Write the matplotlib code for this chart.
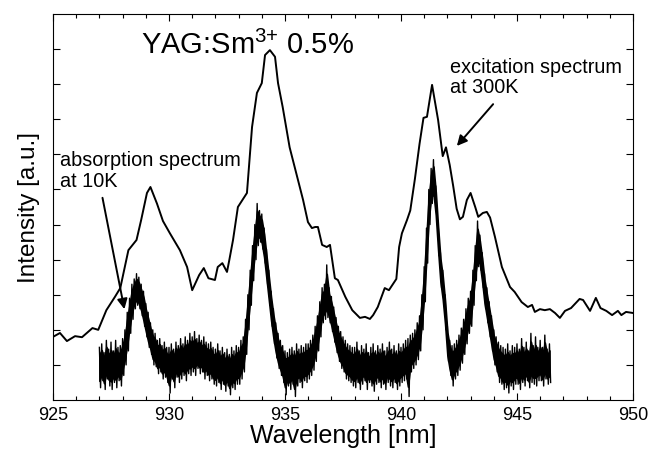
import numpy as np
import matplotlib
matplotlib.use("Agg")
import matplotlib.pyplot as plt
from matplotlib.ticker import MultipleLocator, NullFormatter

plt.rcParams['font.family'] = ['Liberation Sans', 'DejaVu Sans']
plt.rcParams['mathtext.fontset'] = 'custom'
plt.rcParams['mathtext.rm'] = 'Liberation Sans'
plt.rcParams['mathtext.it'] = 'Liberation Sans:italic'
plt.rcParams['mathtext.bf'] = 'Liberation Sans:bold'

# ---- Excitation spectrum at 300 K (smooth line) ----
exc_wl = [925.0, 925.3, 925.6, 925.95, 926.25, 926.7, 926.95, 927.3, 927.67, 927.9,
          928.25, 928.6, 928.8, 929.05, 929.2, 929.48, 929.74, 930.04, 930.47, 930.78,
          931.0, 931.3, 931.5, 931.7, 931.98, 932.1, 932.3, 932.5, 932.6, 932.76,
          932.97, 933.36, 933.58, 933.79, 934.0, 934.14, 934.35, 934.57, 934.7, 934.9,
          935.2, 935.56, 935.78, 935.99, 936.16, 936.3, 936.42, 936.6, 936.8, 936.94,
          937.15, 937.28, 937.6, 937.9, 938.23, 938.45, 938.66, 938.8, 939.0, 939.3,
          939.48, 939.8, 939.92, 940.04, 940.26, 940.4, 940.6, 940.8, 940.97, 941.12,
          941.34, 941.6, 941.8, 941.94, 942.1, 942.25, 942.4, 942.54, 942.67, 942.84,
          943.0, 943.2, 943.33, 943.53, 943.7, 943.84, 944.05, 944.35, 944.7, 944.9,
          945.2, 945.47, 945.65, 945.77, 945.99, 946.2, 946.42, 946.64, 946.85, 947.07,
          947.33, 947.7, 947.85, 948.15, 948.4, 948.6, 948.85, 949.1, 949.35, 949.5,
          949.7, 950.0]
exc_int = [1.80, 1.91, 1.68, 1.82, 1.79, 2.05, 2.00, 2.56, 2.94, 3.19,
           4.27, 4.56, 5.13, 5.90, 6.07, 5.60, 5.10, 4.75, 4.27, 3.79,
           3.13, 3.56, 3.76, 3.47, 3.42, 3.79, 3.90, 3.65, 3.99, 4.56,
           5.50, 5.90, 7.78, 8.75, 9.03, 9.83, 9.97, 9.78, 9.03, 8.35,
           7.20, 6.27, 5.70, 5.07, 4.90, 4.93, 4.93, 4.42, 4.36, 4.42,
           3.47, 3.42, 2.94, 2.56, 2.34, 2.37, 2.31, 2.42, 2.65, 3.19,
           3.13, 3.45, 4.36, 4.75, 5.13, 5.40, 6.30, 7.30, 8.04, 8.07,
           8.98, 7.98, 6.95, 7.20, 6.70, 6.10, 5.45, 5.15, 5.22, 5.70,
           5.90, 5.50, 5.22, 5.33, 5.36, 5.20, 4.65, 3.79, 3.22, 3.08,
           2.79, 2.65, 2.71, 2.51, 2.59, 2.56, 2.59, 2.48, 2.34, 2.54,
           2.62, 2.88, 2.85, 2.54, 2.91, 2.62, 2.54, 2.42, 2.54, 2.42,
           2.51, 2.48]

# ---- Absorption spectrum at 10 K (noisy trace): upper / lower extremes every 0.1 nm ----
abs_start, abs_step = 927.0, 0.1
abs_hi = [
    1.50, 1.60, 1.35, 1.70, 1.45, 1.65, 1.40, 1.70, 1.50, 1.55,   # 927
    1.75, 2.00, 2.50, 2.90, 3.30, 3.45, 3.60, 3.50, 3.30, 3.10,   # 928
    2.75, 2.50, 2.20, 2.00, 1.90, 1.70, 1.75, 1.55, 1.65, 1.50,   # 929
    1.50, 1.60, 1.45, 1.65, 1.55, 1.75, 1.60, 1.80, 1.70, 1.90,   # 930
    1.80, 1.95, 1.75, 1.85, 1.70, 1.80, 1.65, 1.60, 1.65, 1.50,   # 931
    1.45, 1.60, 1.40, 1.50, 1.35, 1.45, 1.30, 1.50, 1.40, 1.55,   # 932
    1.50, 1.70, 1.80, 2.30, 3.00, 3.70, 4.40, 5.00, 5.60, 5.40,   # 933
    5.30, 4.90, 4.30, 3.70, 3.10, 2.60, 2.20, 1.90, 1.70, 1.55,   # 934
    1.40, 1.35, 1.45, 1.50, 1.40, 1.60, 1.45, 1.55, 1.50, 1.60,   # 935
    1.60, 1.70, 1.85, 2.10, 2.40, 2.80, 3.20, 3.30, 3.85, 3.20,   # 936
    2.95, 2.65, 2.35, 2.10, 1.95, 1.80, 1.70, 1.60, 1.55, 1.50,   # 937
    1.50, 1.65, 1.40, 1.55, 1.45, 1.60, 1.35, 1.50, 1.60, 1.40,   # 938
    1.55, 1.45, 1.60, 1.40, 1.50, 1.65, 1.45, 1.55, 1.40, 1.60,   # 939
    1.50, 1.60, 1.70, 1.75, 1.85, 1.90, 2.00, 2.20, 2.40, 3.00,   # 940
    3.80, 4.90, 6.00, 6.60, 6.85, 6.10, 5.10, 4.20, 3.70, 3.00,   # 941
    2.10, 1.70, 1.55, 1.60, 1.70, 1.85, 2.05, 2.30, 2.60, 2.90,   # 942
    3.10, 3.70, 4.40, 5.10, 4.70, 4.20, 3.60, 3.20, 2.80, 2.40,   # 943
    2.00, 1.80, 1.65, 1.55, 1.50, 1.45, 1.60, 1.40, 1.55, 1.50,   # 944
    1.60, 1.45, 1.75, 1.50, 1.65, 1.40, 1.90, 1.55, 1.80, 1.50,   # 945
    1.70, 1.50, 1.85, 1.45, 1.60]                                  # 946
abs_lo = [
    0.35, 0.55, 0.30, 0.60, 0.40, 0.30, 0.50, 0.35, 0.55, 0.40,
    0.70, 1.00, 1.40, 1.90, 2.30, 2.60, 2.70, 2.60, 2.40, 2.10,
    1.80, 1.50, 1.30, 1.00, 0.95, 0.75, 0.80, 0.60, 0.65, 0.50,
    0.20, 0.60, 0.35, 0.65, 0.50, 0.60, 0.70, 0.55, 0.75, 0.70,
    0.80, 0.70, 0.90, 0.75, 0.80, 0.60, 0.70, 0.55, 0.60, 0.45,
    0.40, 0.50, 0.30, 0.45, 0.25, 0.40, 0.15, 0.35, 0.30, 0.45,
    0.45, 0.60, 0.80, 1.30, 2.00, 2.70, 3.40, 4.00, 4.40, 4.50,
    4.30, 3.90, 3.30, 2.70, 2.10, 1.60, 1.20, 0.90, 0.70, 0.50,
    0.15, 0.40, 0.30, 0.45, 0.10, 0.40, 0.50, 0.35, 0.55, 0.50,
    0.60, 0.70, 0.85, 1.10, 1.40, 1.80, 2.20, 2.30, 2.35, 2.20,
    1.95, 1.65, 1.35, 1.10, 0.90, 0.80, 0.60, 0.55, 0.50, 0.40,
    0.35, 0.50, 0.30, 0.45, 0.55, 0.30, 0.50, 0.40, 0.25, 0.45,
    0.50, 0.35, 0.45, 0.30, 0.50, 0.40, 0.35, 0.50, 0.30, 0.40,
    0.50, 0.55, 0.60, 0.10, 0.80, 0.90, 1.00, 1.15, 1.40, 2.00,
    2.80, 3.90, 5.00, 5.60, 5.70, 5.10, 4.10, 3.20, 2.70, 2.00,
    1.10, 0.70, 0.40, 0.60, 0.70, 0.85, 1.05, 1.30, 1.60, 1.90,
    2.10, 2.70, 3.40, 3.80, 3.70, 3.20, 2.60, 2.20, 1.80, 1.40,
    1.00, 0.80, 0.50, 0.45, 0.30, 0.35, 0.20, 0.40, 0.30, 0.45,
    0.45, 0.30, 0.50, 0.40, 0.55, 0.35, 0.50, 0.45, 0.40, 0.55,
    0.55, 0.40, 0.60, 0.45, 0.50]

x_ticks = [925, 930, 935, 940, 945, 950]
title_text = r'YAG:Sm$^{3{+}}$ 0.5%'
exc_label = 'excitation spectrum\nat 300K'
abs_label = 'absorption spectrum\nat 10K'

fig = plt.figure(figsize=(6.48, 4.54), dpi=100)
ax = fig.add_axes([0.0818, 0.1189, 0.8950, 0.8503])

# excitation spectrum
ax.plot(exc_wl, exc_int, color='black', lw=1.4)

# absorption spectrum (noisy band)
hi = np.array(abs_hi)
lo = np.array(abs_lo)
wl = abs_start + abs_step * np.arange(len(hi))
zx = np.empty(2 * len(wl))
zy = np.empty(2 * len(wl))
zx[0::2] = wl
zx[1::2] = wl + abs_step / 2
zy[0::2] = hi
zy[1::2] = lo
ax.plot(zx, zy, color='black', lw=1.0)
ax.fill_between(wl, lo + 0.17 * (hi - lo), hi - 0.17 * (hi - lo), color='black', lw=1.2,
                edgecolor='black')

ax.set_xlim(925, 950)
ax.set_ylim(0, 11)
ax.set_xticks(x_ticks)
ax.xaxis.set_minor_locator(MultipleLocator(1))
ax.set_yticks(np.arange(1, 11))
ax.yaxis.set_major_formatter(NullFormatter())
ax.tick_params(axis='both', which='both', direction='in', top=True, right=True, width=0.8)
ax.tick_params(axis='x', which='major', length=5, labelsize=13, pad=5)
ax.tick_params(axis='x', which='minor', length=3)
ax.tick_params(axis='y', which='major', length=5)
for s in ax.spines.values():
    s.set_linewidth(0.8)

ax.set_xlabel('Wavelength [nm]', fontsize=18, labelpad=0)
ax.set_ylabel('Intensity [a.u.]', fontsize=17.5, labelpad=6)

ax.text(928.8, 9.85, title_text, fontsize=21, ha='left', va='baseline')
ax.text(942.1, 9.19, exc_label, fontsize=14.3, ha='left', va='center', linespacing=1.1)
ax.text(925.3, 6.53, abs_label, fontsize=14.3, ha='left', va='center', linespacing=1.1)

ax.annotate('', xy=(942.33, 7.18), xytext=(944.05, 8.49),
            arrowprops=dict(arrowstyle='-|>', lw=1.4, color='black', mutation_scale=15))
ax.annotate('', xy=(928.1, 2.51), xytext=(927.11, 5.84),
            arrowprops=dict(arrowstyle='-|>', lw=1.4, color='black', mutation_scale=15))

fig.savefig('out.png', dpi=100)
